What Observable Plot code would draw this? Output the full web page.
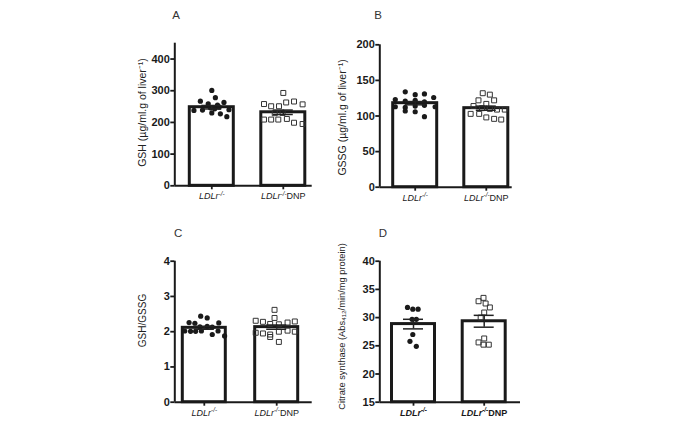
<!DOCTYPE html>
<html><head><meta charset="utf-8">
<script src="https://cdn.jsdelivr.net/npm/d3@7"></script>
<script src="https://cdn.jsdelivr.net/npm/@observablehq/plot@0.6"></script>
<style>
body{margin:0;background:#fff;}
#chart{position:relative;width:680px;height:424px;overflow:hidden;background:#fff;}
.panel{position:absolute;}
.panel svg g[aria-label^="y-axis"] text{font-weight:bold;font-size:11px;fill:#1a1a1a;}
.panel svg g[aria-label^="y-axis"] line,.panel svg g[aria-label^="y-axis"] path,
.panel svg g[aria-label^="x-axis"] line,.panel svg g[aria-label^="x-axis"] path{stroke-width:1.8px;stroke:#1a1a1a;}
</style>
</head><body><div id="chart"></div>
<script>
// ---------- data ----------
const groups = ["LDLr-/-", "LDLr-/-DNP"];

// A: GSH
const gshTicks = [0, 100, 200, 300, 400];
const gshDomain = [0, 450];
const gshMean = [248, 232];
const gshSem = [5.5, 7];
const gshCtrl = [301, 278, 267, 259, 255, 263, 238, 239, 246, 243, 248, 240, 230, 227, 218];
const gshCtrlJitter = [0.00, 0.05, -0.16, -0.05, 0.08, 0.17, -0.25, -0.13, -0.02, 0.04, 0.10, 0.24, 0.00, 0.12, 0.21];
const gshDnp = [293, 258, 251, 251, 263, 266, 257, 209, 209, 209, 211, 229, 230, 199, 195];
const gshDnpJitter = [0.00, -0.27, -0.17, -0.06, 0.04, 0.15, 0.27, -0.27, -0.17, -0.07, 0.05, -0.12, -0.01, 0.15, 0.27];

// B: GSSG
const gssgTicks = [0, 50, 100, 150, 200];
const gssgDomain = [0, 200];
const gssgMean = [118, 111];
const gssgSem = [2.3, 2.9];
const gssgCtrl = [134, 130, 131, 126, 123, 121, 122, 120, 113, 112, 114, 115, 113, 107, 106, 99];
const gssgCtrlJitter = [-0.14, 0.00, 0.13, 0.26, -0.28, -0.14, 0.00, 0.13, -0.28, -0.14, 0.00, 0.13, 0.28, -0.14, 0.00, 0.13];
const gssgDnp = [132, 130, 122, 122, 117, 114, 111, 110, 109, 109, 103, 103, 98, 96, 95];
const gssgDnpJitter = [-0.05, 0.05, -0.11, 0.11, 0.00, -0.18, -0.06, 0.05, 0.15, 0.26, -0.22, -0.10, 0.00, 0.11, 0.21];

// C: GSH/GSSG
const ratioTicks = [0, 1, 2, 3, 4];
const ratioDomain = [0, 4];
const ratioMean = [2.11, 2.13];
const ratioSem = [0.04, 0.06];
const ratioCtrl = [2.44, 2.39, 2.26, 2.24, 2.25, 2.14, 2.15, 2.13, 2.02, 2.01, 2.01, 2.02, 2.02, 1.92, 1.88];
const ratioCtrlJitter = [-0.05, 0.04, -0.21, -0.13, 0.20, -0.06, 0.04, 0.11, -0.27, -0.19, -0.12, -0.04, 0.19, 0.11, 0.28];
const ratioDnp = [2.62, 2.39, 2.31, 2.28, 2.22, 2.21, 2.26, 2.29, 1.97, 1.95, 1.92, 1.85, 2.00, 2.03, 2.00, 1.71];
const ratioDnpJitter = [-0.03, -0.03, -0.29, -0.19, -0.09, 0.03, 0.15, 0.25, -0.29, -0.19, -0.09, -0.09, 0.03, 0.15, 0.25, 0.03];

// D: Citrate synthase
const csTicks = [15, 20, 25, 30, 35, 40];
const csDomain = [15, 40];
const csMean = [28.85, 29.35];
const csSem = [0.85, 1.05];
const csCtrl = [31.8, 31.5, 31.5, 29.7, 29.7, 27.0, 25.8, 24.9];
const csCtrlJitter = [-0.085, -0.01, 0.065, -0.02, 0.04, -0.01, -0.05, 0.04];
const csDnp = [33.5, 32.9, 32.5, 31.8, 30.9, 30.0, 26.3, 25.6, 25.2, 25.2];
const csDnpJitter = [-0.01, -0.08, 0.02, 0.08, 0.00, -0.05, 0.00, -0.08, -0.01, 0.065];

// ---------- panel layout (page pixel geometry) ----------
const panels = [
  {letter: "A", left: 0, top: 0, w: 335, h: 212, axisL: 174.3, axisR: 311.7, axisT: 42.7, axisB: 185.3, c0: 211.3, c1: 282.8, barW: 47,
   domain: gshDomain, ticks: gshTicks, mean: gshMean, sem: gshSem, ctrl: gshCtrl, ctrlJ: gshCtrlJitter, dnp: gshDnp, dnpJ: gshDnpJitter,
   title: "GSH (µg/ml.g of liver⁻¹)", titleX: 142.3, titleY: 112, titleSize: 10.5, letterX: 175.7, letterY: 15, bold: false},
  {letter: "B", left: 335, top: 0, w: 345, h: 212, axisL: 379.3, axisR: 511.7, axisT: 44.3, axisB: 186.7, c0: 414.7, c1: 485.8, barW: 47,
   domain: gssgDomain, ticks: gssgTicks, mean: gssgMean, sem: gssgSem, ctrl: gssgCtrl, ctrlJ: gssgCtrlJitter, dnp: gssgDnp, dnpJ: gssgDnpJitter,
   title: "GSSG (µg/ml.g of liver⁻¹)", titleX: 341.7, titleY: 117, titleSize: 10.5, letterX: 377.7, letterY: 15, bold: false},
  {letter: "C", left: 0, top: 212, w: 335, h: 212, axisL: 174.3, axisR: 311.7, axisT: 260.7, axisB: 401.7, c0: 203.8, c1: 276.2, barW: 46,
   domain: ratioDomain, ticks: ratioTicks, mean: ratioMean, sem: ratioSem, ctrl: ratioCtrl, ctrlJ: ratioCtrlJitter, dnp: ratioDnp, dnpJ: ratioDnpJitter,
   title: "GSH/GSSG", titleX: 142.3, titleY: 320, titleSize: 10, letterX: 177.7, letterY: 232.7, bold: false},
  {letter: "D", left: 335, top: 212, w: 345, h: 212, axisL: 379.3, axisR: 520, axisT: 260.7, axisB: 401.7, c0: 413, c1: 483.7, barW: 46,
   domain: csDomain, ticks: csTicks, mean: csMean, sem: csSem, ctrl: csCtrl, ctrlJ: csCtrlJitter, dnp: csDnp, dnpJ: csDnpJitter,
   title: "Citrate synthase (Abs₄₁₂/min/mg protein)", titleX: 341.7, titleY: 326, titleSize: 9.3, letterX: 382.3, letterY: 232.7, bold: true}
];

const ink = "#1a1a1a";
const NS = "http://www.w3.org/2000/svg";

function richLabels(svg, bold) {
  svg.querySelectorAll('g[aria-label^="x-axis"] text').forEach(t => {
    const m = /^(LDLr)(-\/-)(.*)$/.exec(t.textContent);
    if (!m) return;
    t.textContent = "";
    const a = document.createElementNS(NS, "tspan");
    a.setAttribute("font-style", "italic"); a.textContent = m[1];
    const b = document.createElementNS(NS, "tspan");
    b.setAttribute("font-style", "italic"); b.setAttribute("font-size", "6.3px");
    b.setAttribute("dy", "-3.6"); b.textContent = m[2];
    t.append(a, b);
    if (m[3]) {
      const c = document.createElementNS(NS, "tspan");
      c.setAttribute("dy", "3.6"); c.textContent = m[3];
      t.append(c);
    }
    t.setAttribute("font-weight", bold ? "bold" : "normal");
    t.setAttribute("font-size", "9px");
    t.style.fill = ink;
  });
}

function makePanel(p) {
  const k = p.c1 - p.c0;
  const xDomain = [(p.axisL - p.c0) / k, (p.axisR - p.c0) / k];
  const hw = (p.barW / 2 - 1.5) / k;
  const cap = 10 / k;
  const y0 = p.domain[0];
  const bars = p.mean.map((m, i) => ({i, mean: m, lo: m - p.sem[i], hi: m + p.sem[i]}));
  const ctrlPts = p.ctrl.map((v, j) => ({x: 0 + p.ctrlJ[j], v}));
  const dnpPts = p.dnp.map((v, j) => ({x: 1 + p.dnpJ[j], v}));
  const midY = (p.axisT + p.axisB) / 2;

  const svg = Plot.plot({
    width: p.w, height: p.h,
    marginLeft: p.axisL - p.left,
    marginRight: p.left + p.w - p.axisR,
    marginTop: p.axisT - p.top,
    marginBottom: p.top + p.h - p.axisB,
    x: {type: "linear", domain: xDomain, ticks: [0, 1], tickFormat: i => groups[i], tickSize: 4, tickPadding: 3, label: null},
    y: {type: "linear", domain: p.domain, ticks: p.ticks, tickFormat: d => String(d), tickSize: 4, tickPadding: 1, label: null},
    style: {fontFamily: "'Liberation Sans', Arial, sans-serif", fontSize: "9px", background: "transparent", overflow: "visible", color: ink},
    marks: [
      Plot.rect(bars, {x1: d => d.i - hw, x2: d => d.i + hw, y1: () => y0, y2: "mean", fill: "white", stroke: ink, strokeWidth: 3}),
      Plot.ruleX([xDomain[0]], {y1: () => p.domain[0], y2: () => p.domain[1], stroke: ink, strokeWidth: 2}),
      Plot.ruleY([y0], {x1: () => xDomain[0], x2: () => xDomain[1], stroke: ink, strokeWidth: 2}),
      Plot.dot(ctrlPts, {x: "x", y: "v", r: 2.6, fill: ink, stroke: "none"}),
      Plot.dot(dnpPts, {x: "x", y: "v", r: 2.8, symbol: "square", fill: "none", stroke: "#333", strokeWidth: 1}),
      Plot.ruleX(bars, {x: "i", y1: "lo", y2: "hi", stroke: "#222", strokeWidth: 1.5}),
      Plot.ruleY(bars, {y: "hi", x1: d => d.i - cap, x2: d => d.i + cap, stroke: "#222", strokeWidth: 1.5}),
      Plot.ruleY(bars, {y: "lo", x1: d => d.i - cap, x2: d => d.i + cap, stroke: "#222", strokeWidth: 1.5}),
      Plot.text([p.title], {frameAnchor: "left", dx: p.titleX - p.axisL, dy: p.titleY - midY, rotate: -90,
        textAnchor: "middle", lineAnchor: "middle", fontSize: p.titleSize, fill: "#222"}),
      Plot.text([p.letter], {frameAnchor: "top-left", dx: p.letterX - p.axisL, dy: p.letterY - p.axisT,
        textAnchor: "middle", lineAnchor: "middle", fontSize: 11.5, fill: "#333"})
    ]
  });
  richLabels(svg, p.bold);
  const div = document.createElement("div");
  div.className = "panel";
  div.style.left = p.left + "px";
  div.style.top = p.top + "px";
  div.style.width = p.w + "px";
  div.style.height = p.h + "px";
  div.appendChild(svg);
  document.getElementById("chart").appendChild(div);
}

panels.forEach(makePanel);
</script>
</body></html>
